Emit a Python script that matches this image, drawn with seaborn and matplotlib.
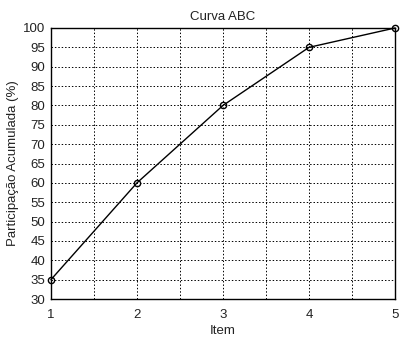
import matplotlib
matplotlib.use("Agg")
import matplotlib.pyplot as plt
import seaborn as sns
import pandas as pd
from matplotlib.ticker import MultipleLocator

items = [1, 2, 3, 4, 5]
acumulada = [35, 60, 80, 95, 100]
yticks = list(range(30, 101, 5))

sns.set_style("white")
plt.rcParams['font.family'] = ['Liberation Sans', 'DejaVu Sans']

df = pd.DataFrame({"Item": items, "Acum": acumulada})

fig = plt.figure(figsize=(4.04, 3.41), dpi=100)
ax = fig.add_axes([0.126, 0.123, 0.852, 0.795])
sns.lineplot(data=df, x="Item", y="Acum", ax=ax, color="black", linewidth=1.0,
             marker="o", markersize=4.5, markerfacecolor="none",
             markeredgecolor="black", markeredgewidth=1.0, clip_on=False, zorder=5)

ax.set_xlim(1, 5)
ax.set_ylim(30, 100)
ax.set_xticks(items)
ax.xaxis.set_minor_locator(MultipleLocator(0.5))
ax.set_yticks(yticks)
ax.grid(True, which="both", axis="x", color="black", linestyle=(0, (1.5, 2)), linewidth=0.7)
ax.grid(True, which="major", axis="y", color="black", linestyle=(0, (1.5, 2)), linewidth=0.7)
ax.tick_params(which="both", length=0, labelsize=9.5, colors="#222222")
ax.tick_params(axis="x", pad=7)
ax.tick_params(axis="y", pad=4)
for s in ax.spines.values():
    s.set_color("black")
    s.set_linewidth(1.0)
ax.set_title("Curva ABC", fontsize=9.5, pad=6, color="#222222")
ax.set_xlabel("Item", fontsize=9.5, labelpad=3, color="#222222")
ax.set_ylabel("Participação Acumulada (%)", fontsize=9.5, labelpad=3, color="#222222")
fig.savefig("out.png", dpi=100)
